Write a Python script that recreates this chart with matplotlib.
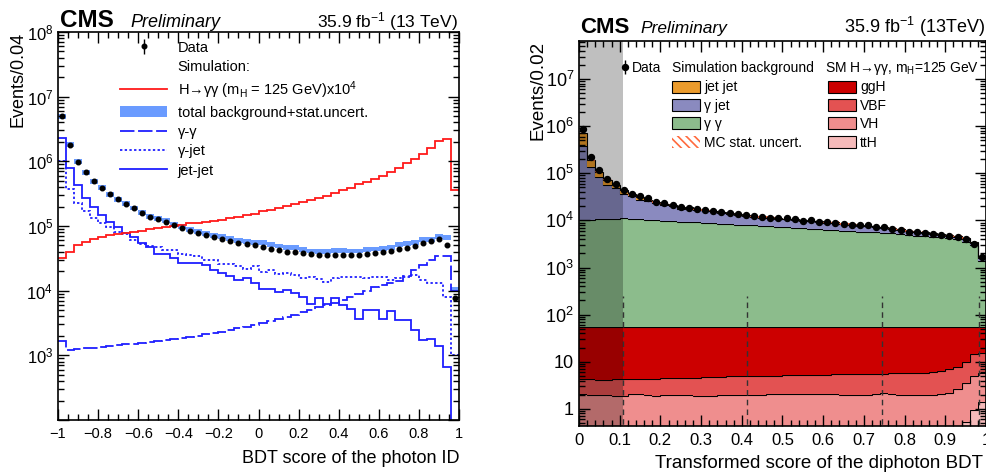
import numpy as np
import matplotlib as mpl
mpl.use('Agg')
from matplotlib import pyplot as plt
from matplotlib.lines import Line2D
from matplotlib.patches import Patch
from matplotlib.ticker import FixedLocator, MultipleLocator, FuncFormatter, LogLocator, NullFormatter

mpl.rcParams['font.family'] = ['Liberation Sans', 'DejaVu Sans']
mpl.rc('mathtext', default='regular')
mpl.rcParams['axes.linewidth'] = 1.2
mpl.rcParams['hatch.linewidth'] = 1.2

# ---- left panel: photon ID BDT, 50 bins in [-1, 1] ----
photon_data = [5.0e6, 1.8e6, 9.8e5, 6.8e5, 4.9e5, 3.9e5, 3.1e5, 2.6e5, 2.2e5, 1.9e5,
               1.6e5, 1.4e5, 1.3e5, 1.15e5, 1.02e5, 9.3e4, 8.5e4, 7.8e4, 7.2e4, 6.8e4,
               6.3e4, 5.8e4, 5.5e4, 5.2e4, 5.0e4, 4.8e4, 4.4e4, 4.2e4, 4.0e4, 3.9e4,
               3.8e4, 3.7e4, 3.6e4, 3.6e4, 3.6e4, 3.6e4, 3.6e4, 3.6e4, 3.7e4, 3.8e4,
               3.9e4, 4.1e4, 4.4e4, 4.6e4, 4.9e4, 5.4e4, 5.8e4, 6.2e4, 5.1e4, 7.6e3]
photon_bkg = [5.0e6, 1.8e6, 9.8e5, 6.8e5, 4.9e5, 3.9e5, 3.1e5, 2.6e5, 2.2e5, 1.9e5,
              1.6e5, 1.4e5, 1.3e5, 1.2e5, 1.07e5, 9.8e4, 8.9e4, 8.2e4, 7.6e4, 7.1e4,
              6.9e4, 6.4e4, 6.0e4, 5.7e4, 5.5e4, 5.6e4, 5.2e4, 4.9e4, 4.7e4, 4.6e4,
              4.3e4, 4.1e4, 4.0e4, 4.0e4, 4.2e4, 4.2e4, 4.1e4, 4.1e4, 4.3e4, 4.4e4,
              4.5e4, 4.7e4, 5.1e4, 5.3e4, 5.6e4, 6.2e4, 6.2e4, 6.8e4, 6.6e4, 1.05e4]
photon_signal = [3.2e4, 4.0e4, 5.1e4, 5.6e4, 6.2e4, 6.8e4, 7.2e4, 7.6e4, 7.8e4, 8.1e4,
                 8.5e4, 8.9e4, 9.3e4, 9.8e4, 1.0e5, 1.05e5, 1.1e5, 1.12e5, 1.15e5, 1.2e5,
                 1.26e5, 1.35e5, 1.38e5, 1.48e5, 1.55e5, 1.7e5, 1.78e5, 1.9e5, 2.04e5, 2.19e5,
                 2.34e5, 2.5e5, 2.75e5, 2.95e5, 3.24e5, 3.55e5, 3.9e5, 4.4e5, 4.8e5, 5.4e5,
                 6.0e5, 6.9e5, 7.9e5, 9.3e5, 1.1e6, 1.32e6, 1.62e6, 2.1e6, 2.2e6, 3.6e5]
photon_gg = [1.66e3, 1.23e3, 1.26e3, 1.29e3, 1.32e3, 1.35e3, 1.38e3, 1.45e3, 1.48e3, 1.51e3,
             1.55e3, 1.62e3, 1.66e3, 1.74e3, 1.78e3, 1.86e3, 1.95e3, 2.0e3, 2.1e3, 2.2e3,
             2.3e3, 2.45e3, 2.6e3, 2.75e3, 2.95e3, 3.15e3, 3.4e3, 3.6e3, 3.9e3, 4.2e3,
             4.6e3, 5.0e3, 5.5e3, 5.9e3, 6.5e3, 7.1e3, 7.9e3, 8.9e3, 1.0e4, 1.12e4,
             1.23e4, 1.32e4, 1.41e4, 1.66e4, 2.1e4, 2.5e4, 2.95e4, 3.4e4, 3.4e4, 1.0e4]
photon_gj = [1.0e6, 3.8e5, 2.3e5, 1.7e5, 1.35e5, 1.12e5, 9.8e4, 8.1e4, 7.6e4, 6.0e4,
             5.2e4, 4.9e4, 4.8e4, 4.3e4, 4.3e4, 3.7e4, 3.6e4, 3.4e4, 3.0e4, 3.0e4,
             2.6e4, 2.6e4, 2.4e4, 2.2e4, 2.45e4, 1.95e4, 2.1e4, 1.8e4, 1.85e4, 1.75e4,
             1.55e4, 1.6e4, 1.5e4, 1.35e4, 1.55e4, 1.6e4, 1.6e4, 1.6e4, 1.55e4, 1.65e4,
             1.6e4, 1.45e4, 1.55e4, 1.65e4, 1.75e4, 1.45e4, 1.3e4, 1.3e4, 7.9e3, 1.0e3]
photon_jj = [2.3e6, 7.9e5, 4.3e5, 2.7e5, 2.0e5, 1.5e5, 1.15e5, 9.8e4, 7.8e4, 6.8e4,
             5.4e4, 4.8e4, 3.7e4, 3.7e4, 3.2e4, 2.7e4, 2.7e4, 2.7e4, 2.5e4, 2.1e4,
             1.9e4, 1.7e4, 1.45e4, 1.55e4, 1.3e4, 1.05e4, 1.05e4, 9.5e3, 1.02e4, 9.3e3,
             7.9e3, 6.2e3, 7.8e3, 6.2e3, 7.8e3, 5.9e3, 5.2e3, 3.6e3, 5.0e3, 5.0e3,
             3.6e3, 4.8e3, 3.5e3, 3.5e3, 2.5e3, 1.7e3, 1.8e3, 1.4e3, 650, 1]

# ---- right panel: transformed diphoton BDT, 50 bins in [0, 1] ----
dipho_data = [8.9e5, 2.24e5, 1.15e5, 7.4e4, 5.8e4, 4.4e4, 3.7e4, 3.3e4, 2.95e4, 2.5e4,
              2.3e4, 2.1e4, 1.9e4, 1.86e4, 1.74e4, 1.66e4, 1.58e4, 1.51e4, 1.41e4, 1.35e4,
              1.29e4, 1.23e4, 1.2e4, 1.15e4, 1.1e4, 1.1e4, 1.05e4, 9.8e3, 1.02e4, 9.3e3,
              9.1e3, 8.9e3, 8.3e3, 8.1e3, 7.8e3, 7.8e3, 7.1e3, 7.1e3, 6.6e3, 6.2e3,
              5.75e3, 5.75e3, 5.5e3, 5.25e3, 4.9e3, 4.7e3, 4.4e3, 4.0e3, 3.2e3, 1.7e3]
dipho_gg = [1.0e4, 1.02e4, 1.05e4, 1.05e4, 1.07e4, 1.1e4, 1.07e4, 1.05e4, 1.02e4, 1.0e4,
            9.8e3, 9.5e3, 9.3e3, 9.1e3, 9.1e3, 8.9e3, 8.7e3, 8.5e3, 8.3e3, 8.1e3,
            7.9e3, 7.8e3, 7.6e3, 7.4e3, 7.2e3, 7.1e3, 6.9e3, 6.8e3, 6.6e3, 6.5e3,
            6.3e3, 6.2e3, 6.0e3, 5.9e3, 5.75e3, 5.6e3, 5.5e3, 5.4e3, 5.25e3, 5.1e3,
            4.9e3, 4.7e3, 4.6e3, 4.4e3, 4.3e3, 4.1e3, 3.9e3, 3.5e3, 3.0e3, 1.3e3]
dipho_gj = [3.7e5, 1.28e5, 7.4e4, 4.6e4, 3.7e4, 2.5e4, 2.2e4, 1.65e4, 1.5e4, 1.35e4,
            1.18e4, 1.07e4, 8.5e3, 9.2e3, 7.3e3, 7.3e3, 6.7e3, 6.0e3, 5.5e3, 4.8e3,
            4.7e3, 4.2e3, 3.8e3, 3.8e3, 3.4e3, 3.4e3, 3.3e3, 2.9e3, 2.9e3, 2.7e3,
            2.6e3, 2.5e3, 2.3e3, 2.1e3, 1.95e3, 1.9e3, 1.6e3, 1.6e3, 1.35e3, 1.1e3,
            900, 850, 850, 750, 600, 600, 500, 500, 300, 250]
dipho_jj = [3.3e5, 5.7e4, 2.2e4, 1.6e4, 8e3, 8e3, 4e3, 5e3, 2e3, 1e3,
            900, 800, 700, 700, 600, 600, 600, 500, 500, 500,
            400, 400, 400, 400, 400, 300, 300, 300, 300, 300,
            300, 300, 200, 200, 200, 200, 200, 200, 200, 200,
            200, 150, 150, 150, 100, 100, 100, 100, 100, 50]
sig_tth = [0.30, 0.30, 0.30, 0.30, 0.30, 0.30, 0.30, 0.30, 0.30, 0.30,
           0.30, 0.30, 0.30, 0.30, 0.30, 0.30, 0.30, 0.30, 0.30, 0.30,
           0.30, 0.30, 0.30, 0.30, 0.30, 0.30, 0.30, 0.30, 0.30, 0.30,
           0.30, 0.30, 0.30, 0.30, 0.30, 0.30, 0.30, 0.30, 0.30, 0.30,
           0.30, 0.30, 0.30, 0.30, 0.30, 0.30, 0.30, 0.52, 0.93, 1.4]
sig_vh = [1.75, 1.7, 1.65, 1.65, 1.6, 1.6, 1.8, 1.8, 1.65, 1.6,
          1.65, 1.65, 1.65, 1.65, 1.6, 1.6, 1.6, 1.7, 1.7, 1.7,
          1.7, 1.65, 1.7, 1.75, 1.75, 1.8, 1.8, 1.8, 1.8, 1.8,
          1.75, 1.75, 1.7, 1.7, 1.65, 1.65, 1.8, 1.85, 1.8, 1.7,
          1.65, 1.65, 1.65, 1.7, 1.75, 1.9, 2.4, 3.0, 4.07, 4.4]
sig_vbf = [2.25, 2.3, 2.25, 2.25, 2.4, 2.4, 2.2, 2.3, 2.45, 2.5,
           2.55, 2.55, 2.65, 2.65, 2.7, 2.8, 2.8, 2.8, 2.9, 2.9,
           3.0, 3.05, 3.1, 3.05, 3.05, 3.1, 3.1, 3.1, 3.2, 3.2,
           3.25, 3.35, 3.4, 3.5, 3.55, 3.55, 3.5, 3.45, 3.6, 3.7,
           3.85, 3.85, 3.95, 4.0, 4.25, 4.7, 5.1, 6.5, 9.5, 9.8]
sig_ggh = [50.7, 50.7, 50.8, 50.8, 50.7, 50.7, 50.7, 50.6, 50.6, 50.6,
           50.5, 50.5, 50.4, 50.4, 50.4, 50.3, 50.3, 50.2, 50.1, 50.1,
           50.0, 50.0, 49.9, 49.9, 49.9, 49.8, 49.8, 49.8, 49.7, 49.7,
           49.7, 49.6, 49.6, 49.5, 49.5, 49.5, 49.4, 49.4, 49.3, 49.3,
           49.2, 49.2, 49.1, 49.0, 48.7, 48.1, 47.2, 45.0, 40.5, 39.4]
category_bounds = [0.108, 0.413, 0.745, 0.983]
blind_upper = 0.108

blue = '#1f1fff'
band_col = '#6a9bff'
stack_cols = ['#f5baba', '#ef8e8e', '#e35252', '#cc0000', '#8cbc8c', '#8a8abf', '#eb9b2c']
hatch_col = '#ff6a3d'


def root_ticks(ax):
    ax.tick_params(which='both', direction='in', top=True, right=True, width=1.0)
    ax.tick_params(which='major', length=8)
    ax.tick_params(which='minor', length=4)


def fmt_x(v, pos):
    s = '{:g}'.format(round(v, 2))
    if s in ('-0', '0'):
        return '0'
    return s.replace('-', '\u2212')


def fmt_log(v, pos):
    n = int(round(np.log10(v)))
    if n == 0:
        return '1'
    if n == 1:
        return '10'
    return '$10^{%d}$' % n


fig = plt.figure(figsize=(9.87, 4.75), dpi=100)
ax1 = fig.add_axes([0.0588, 0.1158, 0.4063, 0.8168])
ax2 = fig.add_axes([0.5866, 0.1038, 0.4124, 0.8105])

# ------------------ left ------------------
edges1 = np.linspace(-1, 1, len(photon_data) + 1)
centers1 = 0.5 * (edges1[1:] + edges1[:-1])
bkg = np.array(photon_bkg)
ax1.stairs(bkg * 1.09, edges1, baseline=bkg / 1.09, fill=True, color=band_col, lw=0)
ax1.stairs(photon_gg, edges1, baseline=None, color=blue, lw=1.3, linestyle=(0, (8, 2)))
ax1.stairs(photon_gj, edges1, baseline=None, color=blue, lw=1.3, linestyle=(0, (1.3, 1.3)))
ax1.stairs(photon_jj, edges1, baseline=None, color=blue, lw=1.3)
ax1.stairs(photon_signal, edges1, baseline=None, color='#ff1a1a', lw=1.3)
d1 = np.array(photon_data)
hd1 = ax1.errorbar(centers1, d1, yerr=np.sqrt(d1), fmt='o', color='k', ms=3.3,
                   elinewidth=1, capsize=0)

ax1.set_yscale('log')
ax1.set_xlim(-1, 1)
ax1.set_ylim(100, 1e8)
ax1.xaxis.set_major_locator(MultipleLocator(0.2))
ax1.xaxis.set_minor_locator(MultipleLocator(0.05))
ax1.xaxis.set_major_formatter(FuncFormatter(fmt_x))
ax1.yaxis.set_major_locator(FixedLocator(10.0 ** np.arange(2, 9)))
ax1.yaxis.set_major_formatter(FuncFormatter(lambda v, p: '' if v < 500 else fmt_log(v, p)))
ax1.yaxis.set_minor_locator(LogLocator(base=10, subs=np.arange(2, 10)))
ax1.yaxis.set_minor_formatter(NullFormatter())
root_ticks(ax1)
ax1.tick_params(axis='x', labelsize=10.5, pad=5)
ax1.tick_params(axis='y', labelsize=12)

ax1.set_ylabel('Events/0.04', fontsize=13, loc='top')
ax1.yaxis.set_label_coords(-0.078, 1.0)
ax1.set_xlabel('BDT score of the photon ID', fontsize=13, loc='right')
ax1.xaxis.set_label_coords(1.0, -0.077)

h_sim = Line2D([], [], color='none')
h_sig = Line2D([], [], color='#ff1a1a', lw=1.3)
h_band = Patch(facecolor=band_col, edgecolor='none')
h_gg = Line2D([], [], color=blue, lw=1.3, linestyle=(0, (8, 2)))
h_gj = Line2D([], [], color=blue, lw=1.3, linestyle=(0, (1.3, 1.3)))
h_jj = Line2D([], [], color=blue, lw=1.3)
ax1.legend([hd1, h_sim, h_sig, h_band, h_gg, h_gj, h_jj],
           ['Data', 'Simulation:', 'H\u2192\u03b3\u03b3 (m$_{H}$ = 125 GeV)x10$^{4}$',
            'total background+stat.uncert.', '\u03b3-\u03b3', '\u03b3-jet', 'jet-jet'],
           loc='upper left', bbox_to_anchor=(0.155, 0.978), frameon=False, fontsize=10.5,
           handlelength=3.2, handletextpad=0.75, labelspacing=0.36, borderpad=0,
           borderaxespad=0, handleheight=0.8)

fig.text(60 / 987, 1 - 27 / 475, 'CMS', fontsize=17.5, fontweight='bold', va='baseline')
fig.text(130 / 987, 1 - 27 / 475, 'Preliminary', fontsize=13, style='italic', va='baseline')
fig.text(458 / 987, 1 - 27 / 475, '35.9 fb$^{-1}$ (13 TeV)', fontsize=12.5,
         ha='right', va='baseline')

# ------------------ right ------------------
edges2 = np.linspace(0, 1, len(dipho_data) + 1)
centers2 = 0.5 * (edges2[1:] + edges2[:-1])
layers = [sig_tth, sig_vh, sig_vbf, sig_ggh, dipho_gg, dipho_gj, dipho_jj]
bottom = np.full(len(dipho_data), 1e-3)
for vals, col in zip(layers, stack_cols):
    top = bottom + np.array(vals)
    ax2.stairs(top, edges2, baseline=bottom, fill=True, color=col, lw=0)
    ax2.stairs(top, edges2, baseline=None, color='k', lw=0.8)
    bottom = top
total = bottom
ax2.stairs(total * 1.05, edges2, baseline=total / 1.05, fill=True, facecolor='none',
           edgecolor=hatch_col, hatch='\\\\\\\\', lw=0)
d2 = np.array(dipho_data)
hd2 = ax2.errorbar(centers2, d2, yerr=np.sqrt(d2), fmt='o', color='k', ms=4.3,
                   elinewidth=1, capsize=0)
ax2.vlines(category_bounds, 0.3, 250, colors='#333333', linestyles=(0, (4, 3)), lw=1.0, zorder=3)
ax2.axvspan(0, blind_upper, color='k', alpha=0.25, lw=0, zorder=4)

ax2.set_yscale('log')
ax2.set_xlim(0, 1)
ax2.set_ylim(0.44, 6.5e7)
ax2.xaxis.set_major_locator(MultipleLocator(0.1))
ax2.xaxis.set_minor_locator(MultipleLocator(0.02))
ax2.xaxis.set_major_formatter(FuncFormatter(fmt_x))
ax2.yaxis.set_major_locator(FixedLocator(10.0 ** np.arange(0, 8)))
ax2.yaxis.set_major_formatter(FuncFormatter(fmt_log))
ax2.yaxis.set_minor_locator(LogLocator(base=10, subs=np.arange(2, 10)))
ax2.yaxis.set_minor_formatter(NullFormatter())
root_ticks(ax2)
ax2.tick_params(axis='x', labelsize=12, pad=5)
ax2.tick_params(axis='y', labelsize=13)

ax2.set_ylabel('Events/0.02', fontsize=13.5, loc='top')
ax2.yaxis.set_label_coords(-0.079, 1.0)
ax2.set_xlabel('Transformed score of the diphoton BDT', fontsize=13.5, loc='right')
ax2.xaxis.set_label_coords(0.993, -0.076)

leg_d = ax2.legend([hd2], ['Data'], loc='center left', bbox_to_anchor=(0.103, 0.929),
                   frameon=False, fontsize=10, handlelength=0.6, handletextpad=0.2,
                   borderpad=0, borderaxespad=0)
ax2.add_artist(leg_d)
ax2.text(0.2285, 0.929, 'Simulation background', fontsize=10, va='center', transform=ax2.transAxes)
ax2.text(0.604, 0.929, 'SM H\u2192\u03b3\u03b3, m$_{H}$=125 GeV', fontsize=10, va='center',
         transform=ax2.transAxes)

box_handles = [Patch(facecolor=stack_cols[6], edgecolor='k', lw=0.8),
               Patch(facecolor=stack_cols[5], edgecolor='k', lw=0.8),
               Patch(facecolor=stack_cols[4], edgecolor='k', lw=0.8),
               Patch(facecolor='none', edgecolor=hatch_col, hatch='\\\\\\\\', lw=0),
               Patch(facecolor=stack_cols[3], edgecolor='k', lw=0.8),
               Patch(facecolor=stack_cols[2], edgecolor='k', lw=0.8),
               Patch(facecolor=stack_cols[1], edgecolor='k', lw=0.8),
               Patch(facecolor=stack_cols[0], edgecolor='k', lw=0.8)]
box_labels = ['jet jet', '\u03b3 jet', '\u03b3 \u03b3', 'MC stat. uncert.',
              'ggH', 'VBF', 'VH', 'ttH']
ax2.legend(box_handles, box_labels, ncol=2, loc='upper left', bbox_to_anchor=(0.2285, 0.897),
           frameon=False, fontsize=10, handlelength=2.0, handleheight=0.95,
           handletextpad=0.3, labelspacing=0.32, columnspacing=1.9, borderpad=0,
           borderaxespad=0)

fig.text(580 / 987, 1 - 33 / 475, 'CMS', fontsize=16, fontweight='bold', va='baseline')
fig.text(640 / 987, 1 - 33 / 475, 'Preliminary', fontsize=12.5, style='italic', va='baseline')
fig.text(985 / 987, 1 - 33 / 475, '35.9 fb$^{-1}$ (13TeV)', fontsize=13, ha='right', va='baseline')

fig.savefig('out.png', dpi=100)
